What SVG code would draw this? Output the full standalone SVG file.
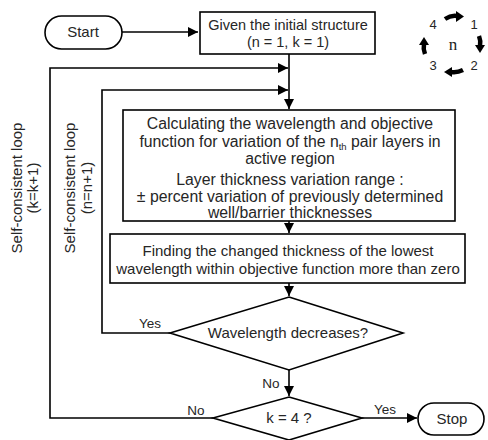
<svg xmlns="http://www.w3.org/2000/svg" width="488" height="440" viewBox="0 0 488 440">
<style>
.shape{fill:#fff;stroke:#000;stroke-width:1.6}
.line{fill:none;stroke:#000;stroke-width:1.6}
text{font-family:"Liberation Sans",Arial,sans-serif;fill:#262626}
.t{font-size:15px;text-anchor:middle}
.c{font-size:15.8px;text-anchor:middle}
.g{font-size:14.5px;text-anchor:middle}
.lb{font-size:13.5px;text-anchor:middle}
.lg{font-size:13px;text-anchor:middle}
.big{fill:none;stroke:#000;stroke-width:4.5}
</style>
<defs>
<marker id="ah" markerUnits="userSpaceOnUse" markerWidth="11" markerHeight="10" refX="10" refY="5" orient="auto">
<path d="M0,0 L10,5 L0,10 z" fill="#000"/>
</marker>
</defs>
<rect width="488" height="440" fill="#fff"/>
<g id="connectors">
<path class="line" d="M122,32 H198" marker-end="url(#ah)"/>
<path class="line" d="M289,54 V109" marker-end="url(#ah)"/>
<path class="line" d="M289,221 V233" marker-end="url(#ah)"/>
<path class="line" d="M289,283 V296" marker-end="url(#ah)"/>
<path class="line" d="M289,370 V396" marker-end="url(#ah)"/>
<path class="line" d="M362,418 H417" marker-end="url(#ah)"/>
<path class="line" d="M170,333 H102 V90 H288" marker-end="url(#ah)"/>
<path class="line" d="M213,418 H50 V68 H288" marker-end="url(#ah)"/>
<text class="lb" x="150" y="328">Yes</text>
<text class="lb" x="271" y="388">No</text>
<text class="lb" x="196" y="415">No</text>
<text class="lb" x="385" y="414">Yes</text>
</g>
<g id="start">
<rect class="shape" x="45" y="16" width="77" height="33" rx="16.5"/>
<text class="t" x="83" y="37">Start</text>
</g>
<g id="init">
<rect class="shape" x="200" y="12" width="175" height="42"/>
<text class="g" x="288" y="30">Given the initial structure</text>
<text class="g" x="288" y="47">(n = 1, k = 1)</text>
</g>
<g id="calc">
<rect class="shape" x="123" y="110" width="332" height="111"/>
<text class="c" x="290" y="129">Calculating the wavelength and objective</text>
<text class="c" x="290" y="147">function for variation of the n<tspan font-size="9.5" dy="3">th</tspan><tspan dy="-3"> pair layers in</tspan></text>
<text class="c" x="290" y="164">active region</text>
<text class="c" x="290" y="185">Layer thickness variation range :</text>
<text class="c" x="290" y="202">± percent variation of previously determined</text>
<text class="c" x="290" y="218">well/barrier thicknesses</text>
</g>
<g id="find">
<rect class="shape" x="110" y="234" width="355" height="49"/>
<text class="t" x="288" y="256">Finding the changed thickness of the lowest</text>
<text class="t" x="288" y="274">wavelength within objective function more than zero</text>
</g>
<g id="decision1">
<polygon class="shape" points="289,297 403,333 289,370 170,333"/>
<text class="t" x="288" y="338">Wavelength decreases?</text>
</g>
<g id="decision2">
<polygon class="shape" points="289,397 362,418 289,440 213,418"/>
<text class="t" x="289" y="423">k = 4 ?</text>
</g>
<g id="stop">
<rect class="shape" x="418" y="403" width="66" height="32" rx="16"/>
<text class="t" x="452" y="424">Stop</text>
</g>
<g id="loop-k">
<text class="t" transform="translate(22,188) rotate(-90)">Self-consistent loop</text>
<text class="t" transform="translate(38,188) rotate(-90)">(k=k+1)</text>
</g>
<g id="loop-n">
<text class="t" transform="translate(75,188) rotate(-90)">Self-consistent loop</text>
<text class="t" transform="translate(92,188) rotate(-90)">(n=n+1)</text>
</g>
<g id="legend">
<text class="lg" x="433" y="29">4</text>
<text class="lg" x="474" y="29">1</text>
<text class="lg" x="433" y="70">3</text>
<text class="lg" x="474" y="70">2</text>
<text x="453" y="50" style="font-family:'Liberation Serif',serif;font-size:17px;text-anchor:middle;fill:#222">n</text>
<path class="big" d="M445,19 Q451,15 457,16"/>
<polygon points="456,11 464,16.5 456,22" fill="#000"/>
<path class="big" d="M479,36 Q481,41 480,46"/>
<polygon points="475,45 485,45 480,53" fill="#000"/>
<path class="big" d="M463,70 Q457,73 451,72"/>
<polygon points="452,67 444,72 452,77" fill="#000"/>
<path class="big" d="M425,54 Q423,49 424,44"/>
<polygon points="419,45 429,45 424,37" fill="#000"/>
</g>
</svg>
